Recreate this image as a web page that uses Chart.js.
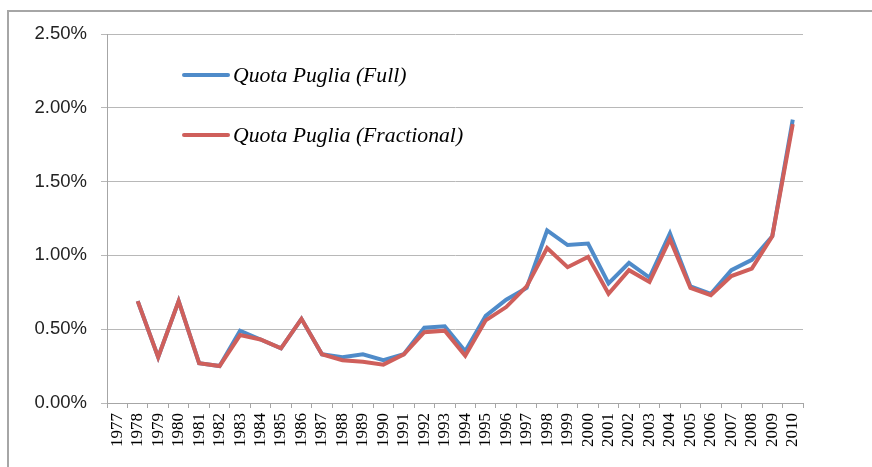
<!DOCTYPE html>
<html>
<head>
<meta charset="utf-8">
<script src="https://cdn.jsdelivr.net/npm/chart.js@4/dist/chart.umd.min.js"></script>
<style>
  html, body { margin: 0; padding: 0; background: #fff; }
  #wrap { position: relative; width: 872px; height: 467px; overflow: hidden; }
  #frame { position: absolute; left: 7px; top: 10px; width: 900px; height: 500px;
           border: 2px solid #a6a6a6; box-sizing: border-box; }
  canvas { position: absolute; left: 0; top: 0; }
</style>
</head>
<body>
<div id="wrap">
  <div id="frame"></div>
  <canvas id="chart" width="872" height="467"></canvas>
</div>
<script>
const years = ['1977', '1978', '1979', '1980', '1981', '1982', '1983', '1984', '1985', '1986',
  '1987', '1988', '1989', '1990', '1991', '1992', '1993', '1994', '1995', '1996', '1997',
  '1998', '1999', '2000', '2001', '2002', '2003', '2004', '2005', '2006', '2007', '2008',
  '2009', '2010'];

// quota in percent
const quotaFull = [null, 0.69, 0.31, 0.69, 0.27, 0.25, 0.49, 0.43, 0.37, 0.57,
  0.33, 0.31, 0.33, 0.29, 0.33, 0.51, 0.52, 0.35, 0.59, 0.70, 0.78,
  1.17, 1.07, 1.08, 0.81, 0.95, 0.85, 1.15, 0.79, 0.74, 0.90, 0.97,
  1.13, 1.92];

const quotaFractional = [null, 0.69, 0.31, 0.69, 0.27, 0.25, 0.46, 0.43, 0.37, 0.57,
  0.33, 0.29, 0.28, 0.26, 0.33, 0.48, 0.49, 0.32, 0.56, 0.65, 0.79,
  1.05, 0.92, 0.99, 0.74, 0.90, 0.82, 1.11, 0.78, 0.73, 0.86, 0.91,
  1.13, 1.89];

const yTicks = [0, 0.5, 1.0, 1.5, 2.0, 2.5];

const seriesNames = ['Quota Puglia (Full)', 'Quota Puglia (Fractional)'];

const legendPlugin = {
  id: 'insideLegend',
  afterDraw: function (chart) {
    const ctx = chart.ctx;
    const x0 = 184, x1 = 228, rows = [75, 135];
    ctx.save();
    chart.data.datasets.forEach(function (ds, i) {
      const y = rows[i];
      ctx.strokeStyle = ds.borderColor;
      ctx.lineWidth = 4;
      ctx.lineCap = 'round';
      ctx.beginPath();
      ctx.moveTo(x0, y);
      ctx.lineTo(x1, y);
      ctx.stroke();
      ctx.fillStyle = '#000';
      ctx.font = 'italic 21.7px "Liberation Serif", "Times New Roman", serif';
      ctx.textBaseline = 'middle';
      ctx.textAlign = 'left';
      ctx.fillText(ds.label, x1 + 5, y + 1);
    });
    ctx.restore();
  }
};

new Chart(document.getElementById('chart'), {
  type: 'line',
  data: {
    labels: years,
    datasets: [{
      label: seriesNames[0],
      data: quotaFull,
      borderColor: '#4f8bc9',
      backgroundColor: '#4f8bc9',
      borderWidth: 4,
      pointRadius: 0,
      tension: 0,
      order: 2
    }, {
      label: seriesNames[1],
      data: quotaFractional,
      borderColor: '#cf5f5b',
      backgroundColor: '#cf5f5b',
      borderWidth: 4,
      pointRadius: 0,
      tension: 0,
      order: 1
    }]
  },
  options: {
    responsive: false,
    animation: false,
    devicePixelRatio: 1,
    layout: { padding: { left: 0, top: 34, right: 69, bottom: 0 } },
    scales: {
      x: {
        offset: true,
        grid: {
          offset: true,
          drawOnChartArea: false,
          drawTicks: true,
          tickLength: 5,
          color: '#a6a6a6'
        },
        border: { display: true, color: '#a6a6a6', width: 1 },
        ticks: {
          autoSkip: false,
          minRotation: 90,
          maxRotation: 90,
          padding: 5,
          color: '#000',
          font: { family: '"Liberation Serif", "Times New Roman", serif', size: 17 }
        },
        afterFit: function (scale) { scale.height = 64; }
      },
      y: {
        min: 0,
        max: 2.5,
        afterBuildTicks: function (scale) {
          scale.ticks = yTicks.map(function (v) { return { value: v }; });
        },
        grid: { color: '#b8b8b8', tickLength: 6, lineWidth: 1 },
        border: { display: true, color: '#a6a6a6', width: 1 },
        ticks: {
          padding: 14,
          color: '#222',
          font: { family: '"Liberation Sans", Arial, sans-serif', size: 18.5 },
          callback: function (v) { return v.toFixed(2) + '%'; }
        },
        afterFit: function (scale) { scale.width = 107; }
      }
    },
    plugins: {
      legend: { display: false },
      tooltip: { enabled: false }
    }
  },
  plugins: [legendPlugin]
});
</script>
</body>
</html>
